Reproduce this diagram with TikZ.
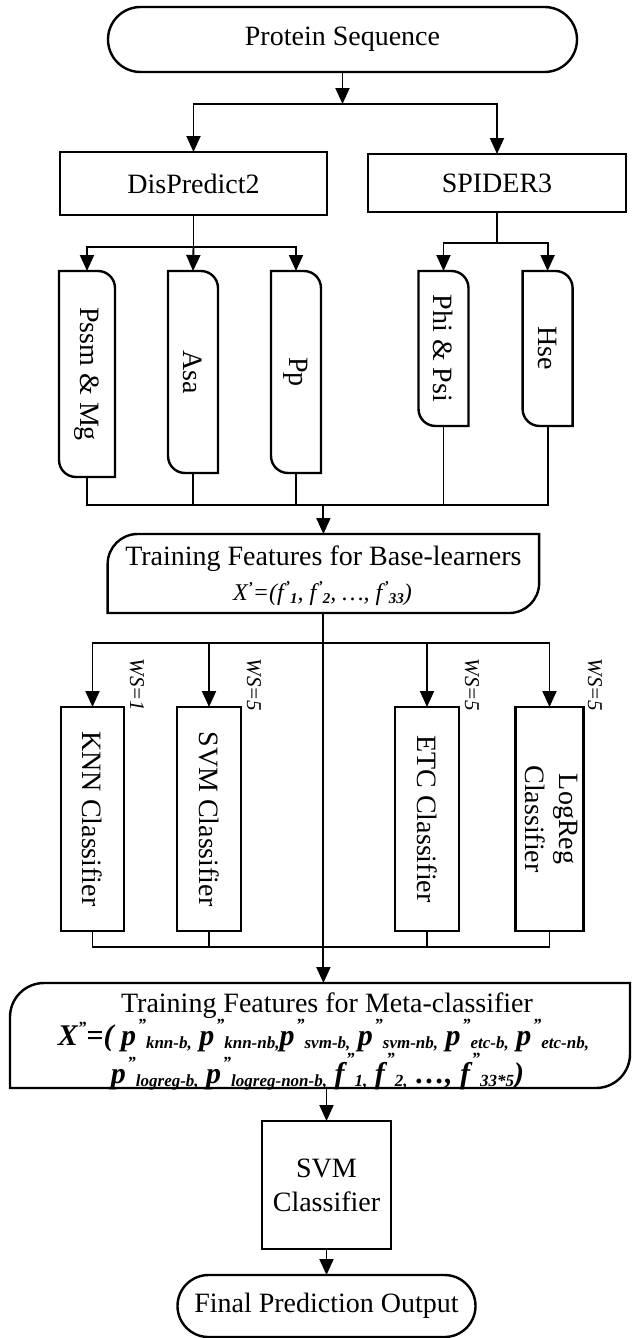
\documentclass[tikz,border=0pt]{standalone}
\usepackage{fontspec}
\setmainfont{Liberation Serif}
\usepackage{graphicx}
\usetikzlibrary{arrows.meta,calc}
\newcommand\subsz{15}
\newcommand\subfnt{\fontsize{\subsz}{\subsz}\selectfont\bfseries\itshape}
% letter, raise of mark, mark, subscript
\newcommand\pss[4]{#1\hspace{1.5pt}\raisebox{#2}{\subfnt #3}\raisebox{-3pt}{\subfnt #4}}
\newcommand\featline[1]{%
  \draw[boxline] (#1.north west) -- ([xshift=-17pt]#1.north east)
    arc[start angle=90,end angle=0,radius=17pt] -- (#1.south east)
    -- ([xshift=17pt]#1.south west) arc[start angle=270,end angle=180,radius=17pt] -- cycle;}
\newcommand\tfline[2]{%
  \draw[boxline] ([yshift=-#2]#1.north west) arc[start angle=180,end angle=90,radius=#2]
    -- (#1.north east) -- ([yshift=#2]#1.south east)
    arc[start angle=0,end angle=-90,radius=#2] -- (#1.south west) -- cycle;}
\tikzset{
  boxline/.style={line width=2.4pt, draw=black},
  conn/.style={line width=1.9pt, draw=black},
  arr/.style={conn, -{Triangle[length=16pt,width=14pt]}},
  plain/.style={inner sep=0pt, outer sep=0pt},
  big/.style={font=\fontsize{28}{34}\selectfont},
  wslab/.style={plain, rotate=-90, font=\fontsize{21}{24}\selectfont\itshape},
  metaf/.style={plain, anchor=base, font={\def\subsz{17}\fontsize{30}{34}\selectfont\bfseries\itshape}},
  basef/.style={plain, anchor=base, font={\def\subsz{15}\fontsize{24}{28}\selectfont\itshape}},
}
\begin{document}
\begin{tikzpicture}[x=1pt,y=1pt]
\useasboundingbox (0,0) rectangle (632,-1338);

% top
\node[boxline, big, plain, rounded corners=32.5pt, minimum width=469pt, minimum height=65pt] (prot) at (342.5,-39.5) {Protein Sequence};
\node[boxline, big, plain, minimum width=267pt, minimum height=63pt] (dis) at (193.5,-183.5) {DisPredict2};
\node[boxline, big, plain, minimum width=258pt, minimum height=58pt] (spi) at (497,-183) {SPIDER3};

% feature boxes
\node[plain, big, minimum width=56pt, minimum height=206pt] (pssm) at (87,-374) {\rotatebox{-90}{Pssm \& Mg}};
\node[plain, big, minimum width=50pt, minimum height=202pt] (asa) at (193,-372) {\rotatebox{-90}{Asa}};
\node[plain, big, minimum width=50pt, minimum height=202pt] (pp) at (296,-372) {\rotatebox{-90}{Pp}};
\node[plain, big, minimum width=50pt, minimum height=155pt] (phi) at (443.5,-348.5) {\rotatebox{-90}{Phi \& Psi}};
\node[plain, big, minimum width=50pt, minimum height=155pt] (hse) at (547.6,-348.5) {\rotatebox{-90}{Hse}};
\featline{pssm}\featline{asa}\featline{pp}\featline{phi}\featline{hse}

% training base
\node[plain, minimum width=431.5pt, minimum height=79pt] (tbase) at (323.4,-573.5) {};
\tfline{tbase}{30pt}
\node[plain, big, anchor=base] (tbaset) at (323.4,-565) {Training Features for Base-learners};
\node[basef] (tbasef) at (322.5,-600)
  {X\raisebox{8pt}{\subfnt ’}=(\pss{f}{9pt}{’}{1}, \pss{f}{9pt}{’}{2}, …, \pss{f}{9pt}{’}{33})};

% classifiers
\node[boxline, plain, big, minimum width=63.5pt, minimum height=224pt] (knn) at (92.5,-819) {\rotatebox{-90}{KNN Classifier}};
\node[boxline, plain, big, minimum width=63.5pt, minimum height=224pt] (svm) at (209,-819) {\rotatebox{-90}{SVM Classifier}};
\node[boxline, plain, big, minimum width=63.5pt, minimum height=224pt] (etc) at (427,-819) {\rotatebox{-90}{ETC Classifier}};
\node[boxline, plain, big, minimum width=63.5pt, minimum height=224pt] (lr) at (549.5,-819)
  {\rotatebox{-90}{\begin{tabular}{@{}c@{}}LogReg\\Classifier\end{tabular}}};
\node[wslab] (ws1) at (137,-685) {WS=1};
\node[wslab] (ws2) at (254,-685) {WS=5};
\node[wslab] (ws3) at (472,-685) {WS=5};
\node[wslab] (ws4) at (595,-685) {WS=5};

% meta
\node[plain, minimum width=620pt, minimum height=105pt] (meta) at (320,-1035.5) {};
\tfline{meta}{34pt}
\node[plain, big, anchor=base] (metat) at (327,-1012) {Training Features for Meta-classifier};
\node[metaf] (metaf1) at (323.5,-1045)
  {X\raisebox{12pt}{\subfnt ”}=( \pss{p}{15pt}{”}{knn-b,} \pss{p}{15pt}{”}{knn-nb,}\pss{p}{15pt}{”}{svm-b,} \pss{p}{15pt}{”}{svm-nb,} \pss{p}{15pt}{”}{etc-b,} \pss{p}{15pt}{”}{etc-nb,}};
\node[metaf] (metaf2) at (317.5,-1083)
  {\pss{p}{15pt}{”}{logreg-b,} \pss{p}{15pt}{”}{logreg-non-b,} \pss{f}{19pt}{”}{1,} \pss{f}{19pt}{”}{2,} …, \pss{f}{19pt}{”}{33*5})};

% final
\node[boxline, plain, big, align=center, minimum width=129pt, minimum height=128pt] (svmf) at (326.5,-1185) {SVM\\Classifier};
\node[boxline, plain, big, rounded corners=31pt, minimum width=298pt, minimum height=62pt] (final) at (326.5,-1306) {Final Prediction Output};

% connectors
\coordinate (j1) at (342.5,-104);
\draw[arr] (prot.south) -- (j1);
\draw[arr] (j1) -| (dis.north);
\draw[arr] (j1) -| (spi.north);
\coordinate (jd) at (193.5,-247);
\draw[conn] (dis.south) -- (jd);
\draw[arr] (jd) -| (pssm.north);
\draw[arr] (jd) -- (asa.north);
\draw[arr] (jd) -| (pp.north);
\coordinate (js) at (497,-243.3);
\draw[conn] (spi.south) -- (js);
\draw[arr] (js) -| (phi.north);
\draw[arr] (js) -| (hse.north);
\coordinate (jb) at (323.4,-505);
\draw[conn] (pssm.south) |- (jb);
\draw[conn] (asa.south) |- (jb);
\draw[conn] (pp.south) |- (jb);
\draw[conn] (phi.south) |- (jb);
\draw[conn] (hse.south) |- (jb);
\draw[arr] (jb) -- (tbase.north);
\coordinate (jc) at (323.4,-643);
\draw[conn] (tbase.south) -- (jc);
\draw[arr] (jc) -| (knn.north);
\draw[arr] (jc) -| (svm.north);
\draw[arr] (jc) -| (etc.north);
\draw[arr] (jc) -| (lr.north);
\draw[arr] (tbase.south) -- (tbase.south |- meta.north);
\coordinate (jm) at (323.4,-946.7);
\draw[conn] (knn.south) |- (jm);
\draw[conn] (svm.south) |- (jm);
\draw[conn] (etc.south) |- (jm);
\draw[conn] (lr.south) |- (jm);
\draw[arr] (meta.south -| svmf.north) -- (svmf.north);
\draw[arr] (svmf.south) -- (final.north);
\end{tikzpicture}
\end{document}
